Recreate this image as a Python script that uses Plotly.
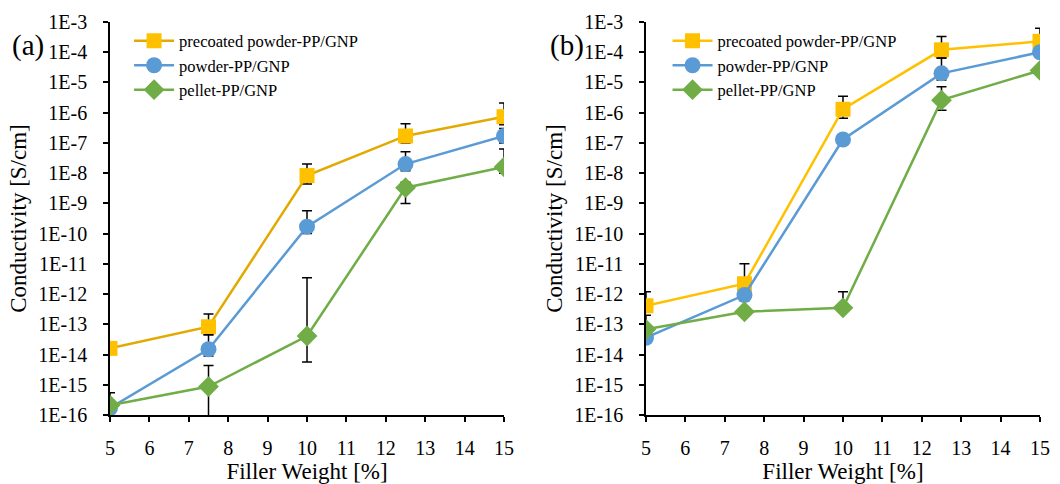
import plotly.graph_objects as go
from plotly.subplots import make_subplots

# ---------------- data ----------------
filler = [5, 7.5, 10, 12.5, 15]
series_names = ["precoated powder-PP/GNP", "powder-PP/GNP", "pellet-PP/GNP"]

# panel (a)
a_precoated = [1.6e-14, 8.3e-14, 8.3e-9, 1.7e-7, 7.4e-7]
a_precoated_hi = [1.6e-14, 2.2e-13, 2.0e-8, 4.3e-7, 2.1e-6]
a_precoated_lo = [1.6e-14, 4.5e-14, 4.4e-9, 1.0e-7, 4.0e-7]

a_powder = [1.7e-16, 1.5e-14, 1.7e-10, 2.0e-8, 1.7e-7]
a_powder_hi = [5.4e-16, 4.5e-14, 5.7e-10, 5.1e-8, 3.0e-7]
a_powder_lo = [1.7e-16, 9.0e-15, 1.0e-10, 1.2e-8, 1.0e-7]

a_pellet = [2.1e-16, 8.7e-16, 4.1e-14, 3.3e-9, 1.6e-8]
a_pellet_hi = [2.1e-16, 4.3e-15, 3.5e-12, 5.0e-9, 6.3e-8]
a_pellet_lo = [2.1e-16, 1.0e-17, 5.7e-15, 1.0e-9, 1.0e-8]

# panel (b)
b_precoated = [4.1e-13, 2.2e-12, 1.3e-6, 1.2e-4, 2.3e-4]
b_precoated_hi = [1.2e-12, 1.0e-11, 3.5e-6, 3.3e-4, 6.2e-4]
b_precoated_lo = [3.0e-13, 1.5e-12, 6.6e-7, 6.5e-5, 1.5e-4]

b_powder = [3.6e-14, 9.3e-13, 1.3e-7, 2.0e-5, 1.0e-4]
b_powder_hi = [3.6e-14, 1.2e-12, 1.3e-7, 6.5e-5, 1.4e-4]
b_powder_lo = [3.6e-14, 6.0e-13, 1.3e-7, 1.2e-5, 7.0e-5]

b_pellet = [6.8e-14, 2.6e-13, 3.5e-13, 2.6e-6, 2.5e-5]
b_pellet_hi = [2.0e-13, 2.6e-13, 1.2e-12, 7.2e-6, 3.0e-5]
b_pellet_lo = [5.0e-14, 2.6e-13, 2.6e-13, 1.2e-6, 2.0e-5]

x_ticks = [5, 6, 7, 8, 9, 10, 11, 12, 13, 14, 15]
y_exponents = [-16, -15, -14, -13, -12, -11, -10, -9, -8, -7, -6, -5, -4, -3]
y_tick_labels = ["1E%d" % e for e in y_exponents]

# ---------------- styling ----------------
FONT = "Liberation Serif, Times New Roman, serif"
marker_cols = ["#FFC000", "#5B9BD5", "#70AD47"]
line_cols_a = ["#E2A900", "#5B9BD5", "#70AD47"]
line_cols_b = ["#FFC000", "#5B9BD5", "#70AD47"]
symbols = ["square", "circle", "diamond"]
msizes = [15, 16, 16]

fig = make_subplots(rows=1, cols=2, horizontal_spacing=0.1526)


def add_series(col, vals, hi, lo, i, line_col, legend):
    plus = [h - v for h, v in zip(hi, vals)]
    minus = [v - l for v, l in zip(vals, lo)]
    fig.add_trace(
        go.Scatter(
            x=filler, y=vals, name=series_names[i], mode="lines+markers",
            line=dict(color=line_col, width=2.5),
            marker=dict(symbol=symbols[i], size=msizes[i], color=marker_cols[i],
                        line=dict(width=0)),
            error_y=dict(type="data", symmetric=False, array=plus, arrayminus=minus,
                         color="black", thickness=1.5, width=5),
            legend=legend,
        ),
        row=1, col=col,
    )


for i, (v, h, l) in enumerate([(a_precoated, a_precoated_hi, a_precoated_lo),
                                (a_powder, a_powder_hi, a_powder_lo),
                                (a_pellet, a_pellet_hi, a_pellet_lo)]):
    add_series(1, v, h, l, i, line_cols_a[i], "legend")

for i, (v, h, l) in enumerate([(b_precoated, b_precoated_hi, b_precoated_lo),
                                (b_powder, b_powder_hi, b_powder_lo),
                                (b_pellet, b_pellet_hi, b_pellet_lo)]):
    add_series(2, v, h, l, i, line_cols_b[i], "legend2")

axis_common = dict(showline=True, linecolor="black", linewidth=1.5, ticks="outside",
                   ticklen=5, tickwidth=1.5, tickcolor="black", showgrid=False,
                   zeroline=False, mirror=False, automargin=False,
                   tickfont=dict(family=FONT, size=20, color="black"))

for c in (1, 2):
    fig.update_xaxes(range=[5, 15], tickvals=x_ticks, ticktext=[str(t) for t in x_ticks],
                     title=dict(text="Filler Weight [%]",
                                font=dict(family=FONT, size=23, color="black"),
                                standoff=10),
                     ticklabelstandoff=9,
                     row=1, col=c, **axis_common)
    fig.update_yaxes(type="log", range=[-16, -3],
                     tickvals=[10.0 ** e for e in y_exponents], ticktext=y_tick_labels,
                     title=dict(text="Conductivity [S/cm]",
                                font=dict(family=FONT, size=23, color="black"),
                                standoff=5),
                     ticklabelstandoff=12,
                     row=1, col=c, **axis_common)

legend_style = dict(font=dict(family=FONT, size=16.5, color="black"),
                    bgcolor="rgba(0,0,0,0)", borderwidth=0, yanchor="top",
                    xanchor="left", tracegroupgap=0, itemwidth=40)

fig.update_layout(
    width=1060, height=484,
    margin=dict(l=110, r=20, t=22, b=69, autoexpand=False),
    paper_bgcolor="white", plot_bgcolor="white",
    font=dict(family=FONT, color="black"),
    showlegend=True,
    legend=dict(x=0.0205, y=0.996, **legend_style),
    legend2=dict(x=0.5995, y=0.996, **legend_style),
    annotations=[
        dict(text="(a)", xref="paper", yref="paper", x=-0.108, y=0.941,
             xanchor="left", yanchor="middle", showarrow=False,
             font=dict(family=FONT, size=29, color="black")),
        dict(text="(b)", xref="paper", yref="paper", x=0.471, y=0.941,
             xanchor="left", yanchor="middle", showarrow=False,
             font=dict(family=FONT, size=29, color="black")),
    ],
)

fig.write_html("out.html")
